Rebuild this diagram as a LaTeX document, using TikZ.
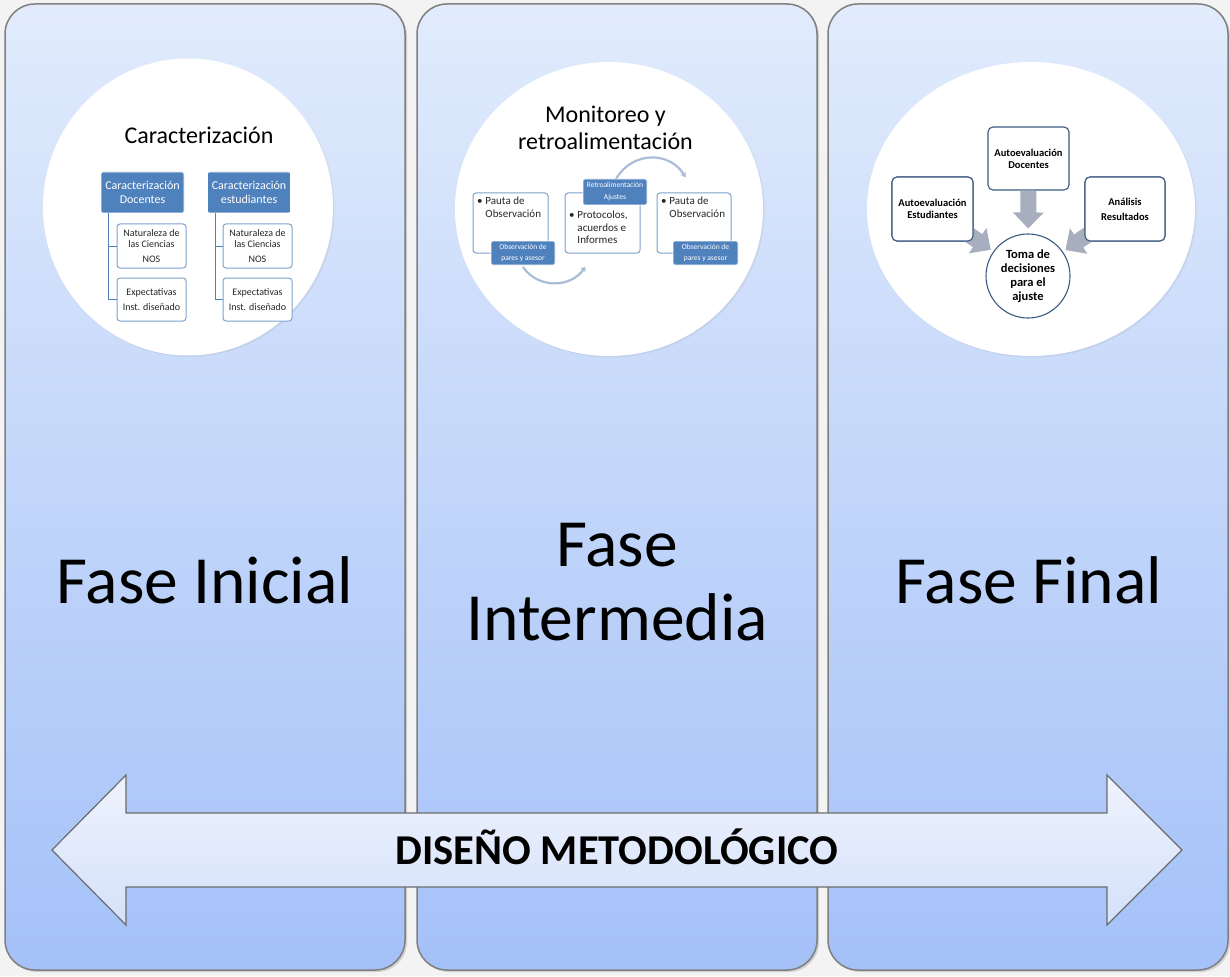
\documentclass[tikz,border=0pt]{standalone}
\usepackage{fontspec}
\setmainfont{Carlito}
\usepackage{tikz}
\usetikzlibrary{positioning,arrows.meta,shapes.geometric,shadows,calc}
\definecolor{cBack}{HTML}{F3F3F3}
\definecolor{cPanelTop}{HTML}{E1EBFC}
\definecolor{cPanelBot}{HTML}{A4C1F8}
\definecolor{cEdge}{HTML}{7F7F7F}
\definecolor{cBlue}{HTML}{4F81BD}
\definecolor{cBlueLine}{HTML}{7FA2CF}
\definecolor{cDark}{HTML}{3C5A82}
\definecolor{cCycle}{HTML}{A9BDD8}
\definecolor{cBlock}{HTML}{A7AEBD}
\definecolor{cArrowTop}{HTML}{EEF3FD}
\definecolor{cArrowBot}{HTML}{D4E1FA}
\tikzset{
  phase-panel/.style={draw=cEdge,line width=1.5pt,rounded corners=30pt,
    top color=cPanelTop,bottom color=cPanelBot,
    minimum width=400pt,minimum height=966pt,
    drop shadow={opacity=0.3,shadow xshift=2pt,shadow yshift=-2pt}},
  phase-circle/.style={ellipse,fill=white,inner sep=0pt,
    drop shadow={opacity=0.12,shadow xshift=1.5pt,shadow yshift=-1.5pt}},
  phase-label/.style={font=\fontsize{67.5}{74}\selectfont,align=center},
  circle-title/.style={font=\fontsize{24}{27}\selectfont,align=center},
  box-blue/.style={fill=cBlue,draw=white,line width=0.6pt,rounded corners=2pt,
    text=white,align=center,inner sep=0pt},
  box-white/.style={draw=cBlueLine,fill=white,line width=1pt,rounded corners=3pt,
    align=center,inner sep=0pt,text=black!85},
  box-final/.style={draw=cDark,fill=white,line width=1.1pt,rounded corners=5pt,
    align=center,inner sep=0pt,font=\fontsize{10.5}{12}\selectfont\bfseries},
  tree-line/.style={draw=cBlue,line width=1pt},
  arrow-cycle/.style={-{Stealth[length=5pt,width=6pt]},draw=cCycle,line width=2.2pt},
  arrow-block/.style={-{Triangle[width=30pt,length=16pt]},draw=cBlock,line width=16pt},
  big-arrow/.style={draw=cEdge!85!black,line width=1.2pt,line join=miter,
    top color=cArrowTop,bottom color=cArrowBot},
}
\begin{document}
\begin{tikzpicture}[x=1pt,y=-1pt]
  \fill[cBack] (0,0) rectangle (1230,976);
  \useasboundingbox (0,0) rectangle (1230,976);
  % columns
  \node[phase-panel] (p-ini) at (205,487) {};
  \node[phase-panel] (p-int) at (617,487) {};
  \node[phase-panel] (p-fin) at (1028,487) {};
  \node[phase-circle,minimum width=290pt,minimum height=297pt] (c-ini) at (188,207) {};
  \node[phase-circle,minimum width=308pt,minimum height=294pt] (c-int) at (609,209) {};
  \node[phase-circle,minimum width=328pt,minimum height=294pt] (c-fin) at (1031,209) {};

  % Fase Inicial
  \node[circle-title,anchor=base] (t-ini) at (199,144) {Caracterización};
  \node[box-blue,minimum width=83pt,minimum height=41pt,font=\fontsize{12}{13.5}\selectfont]
    (car-doc) at (142.5,192.5) {Caracterización\\Docentes};
  \node[box-blue,minimum width=83pt,minimum height=41pt,font=\fontsize{12}{13.5}\selectfont]
    (car-est) at (249,192.5) {Caracterización\\estudiantes};
  \node[box-white,minimum width=69pt,minimum height=44pt,font=\fontsize{10}{11.5}\selectfont]
    (nos-doc) at (151.5,246) {Naturaleza de\\las Ciencias\\[3.5pt]NOS};
  \node[box-white,minimum width=69pt,minimum height=43pt,font=\fontsize{10}{11.5}\selectfont]
    (exp-doc) at (151.5,299.5) {Expectativas\\[3.5pt]Inst. diseñado};
  \node[box-white,minimum width=69pt,minimum height=44pt,font=\fontsize{10}{11.5}\selectfont]
    (nos-est) at (257.5,246) {Naturaleza de\\las Ciencias\\[3.5pt]NOS};
  \node[box-white,minimum width=69pt,minimum height=43pt,font=\fontsize{10}{11.5}\selectfont]
    (exp-est) at (257.5,299.5) {Expectativas\\[3.5pt]Inst. diseñado};
  \draw[tree-line] ([xshift=8pt]car-doc.south west) |- (nos-doc.west);
  \draw[tree-line] ([xshift=8pt]car-doc.south west) |- (exp-doc.west);
  \draw[tree-line] ([xshift=8pt]car-est.south west) |- (nos-est.west);
  \draw[tree-line] ([xshift=8pt]car-est.south west) |- (exp-est.west);

  % Fase Intermedia
  \node[circle-title] (t-int) at (605.5,128) {Monitoreo y\\retroalimentación};
  \node[box-white,minimum width=75pt,minimum height=60pt,inner sep=4pt,
    font=\fontsize{11}{12.5}\selectfont] (pauta-a) at (510.5,223)
    {\parbox[c][52pt][t]{67pt}{\raggedright\textbullet\hspace{3pt}\parbox[t]{55pt}{Pauta de\\Observación}}};
  \node[box-white,minimum width=75pt,minimum height=60pt,inner sep=4pt,
    font=\fontsize{11}{12.5}\selectfont] (protocolos) at (602.5,223)
    {\parbox[c][52pt][t]{67pt}{\vspace*{14pt}\raggedright\textbullet\hspace{3pt}\parbox[t]{55pt}{Protocolos,\\acuerdos e\\Informes}}};
  \node[box-white,minimum width=74pt,minimum height=60pt,inner sep=4pt,
    font=\fontsize{11}{12.5}\selectfont] (pauta-c) at (694,223)
    {\parbox[c][52pt][t]{66pt}{\raggedright\textbullet\hspace{3pt}\parbox[t]{55pt}{Pauta de\\Observación}}};
  \draw[arrow-cycle] (523,267) .. controls (538,289) and (571,288) .. ($(protocolos.south west)+(21,13)$);
  \draw[arrow-cycle] (616,179) .. controls (632,151) and (670,151) .. ($(pauta-c.north west)+(29,-15)$);
  \node[box-blue,minimum width=64pt,minimum height=24pt,font=\fontsize{7.5}{10}\selectfont]
    (obs-a) at (523,253) {Observación de\\pares y asesor};
  \node[box-blue,minimum width=64pt,minimum height=26pt,font=\fontsize{7.5}{10}\selectfont]
    (retro) at (615,192) {Retroalimentación\\[2pt]Ajustes};
  \node[box-blue,minimum width=65pt,minimum height=24pt,font=\fontsize{7.5}{10}\selectfont]
    (obs-c) at (705.5,253) {Observación de\\pares y asesor};

  % Fase Final
  \node[box-final,minimum width=81pt,minimum height=63pt] (auto-doc) at (1028.5,158.5) {Autoevaluación\\Docentes};
  \node[box-final,minimum width=81pt,minimum height=64pt] (auto-est) at (932.5,209) {Autoevaluación\\Estudiantes};
  \node[box-final,minimum width=80pt,minimum height=64pt] (analisis) at (1125,209) {Análisis\\[3pt]Resultados};
  \node[circle,draw=cDark,fill=white,line width=1.1pt,minimum size=84pt,inner sep=0pt,align=center,
    font=\fontsize{12.5}{14}\selectfont\bfseries] (toma) at (1028,276) {Toma de\\decisiones\\para el\\ajuste};
  \draw[arrow-block,shorten >=5pt] (auto-doc) -- (toma);
  \draw[arrow-block,shorten >=3pt,shorten <=-10pt] (auto-est) -- (toma);
  \draw[arrow-block,shorten >=3pt,shorten <=-10pt] (analisis) -- (toma);
  \node[box-final,minimum width=81pt,minimum height=64pt] at (auto-est) {Autoevaluación\\Estudiantes};
  \node[box-final,minimum width=80pt,minimum height=64pt] at (analisis) {Análisis\\[3pt]Resultados};

  % column labels
  \node[phase-label,anchor=base] (l-ini) at (205,603) {Fase Inicial};
  \node[phase-label] (l-int) at (617,582) {Fase\\Intermedia};
  \node[phase-label,anchor=base] (l-fin) at (1029,603) {Fase Final};

  % double arrow
  \draw[big-arrow] (52,850) -- (126,775) -- (126,813) -- (1107,813) -- (1107,775)
    -- (1182,850) -- (1107,925) -- (1107,887) -- (126,887) -- (126,925) -- cycle;
  \node[font=\fontsize{42.5}{46}\selectfont\bfseries,anchor=base] (metodo) at (617,864) {DISEÑO METODOLÓGICO};
\end{tikzpicture}
\end{document}
